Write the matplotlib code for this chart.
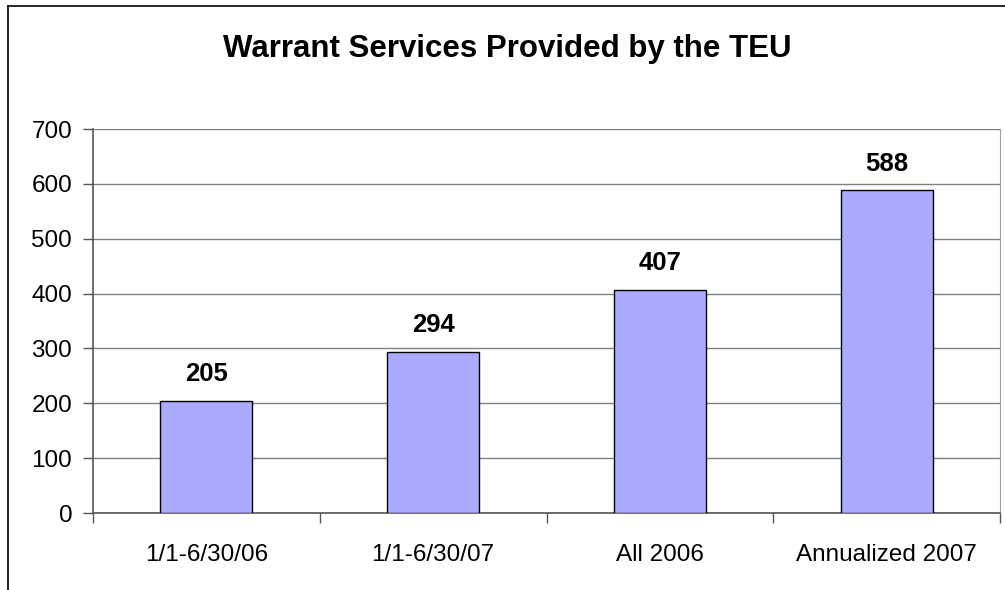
import matplotlib
matplotlib.use("Agg")
import matplotlib.pyplot as plt
from matplotlib.lines import Line2D
import numpy as np

plt.rcParams['font.family'] = ['Liberation Sans', 'DejaVu Sans']

categorias = ["1/1-6/30/06", "1/1-6/30/07", "All 2006", "Annualized 2007"]
valores = [205, 294, 407, 588]
titulo = "Warrant Services Provided by the TEU"

fig = plt.figure(figsize=(10.05, 5.9), dpi=100)
ax = fig.add_axes([93 / 1005, 1 - 513 / 590, 907 / 1005, 384 / 590])

x = np.arange(len(categorias))
ax.bar(x, valores, width=0.405, color="#AAAAFF", edgecolor="black", linewidth=1, zorder=3)
for xi, v in zip(x, valores):
    ax.text(xi, v + 27, str(v), ha="center", va="bottom", fontsize=18.5, fontweight="bold")

ax.set_xlim(-0.5, len(categorias) - 0.5)
ax.set_ylim(0, 700)
ax.set_yticks(range(0, 701, 100))
ax.grid(axis="y", color="#808080", linewidth=1, zorder=0)
ax.set_xticks(x)
ax.set_xticklabels(categorias, fontsize=17.5)
ax.set_xticks(np.arange(-0.5, len(categorias)), minor=True)
ax.tick_params(axis="x", which="major", length=0, pad=22)
ax.tick_params(axis="x", which="minor", length=7, width=1, color="#555555", direction="out")
ax.tick_params(axis="y", labelsize=17.5, length=7, width=1, color="#555555", pad=8)

for s in ["left", "bottom"]:
    ax.spines[s].set_color("#555555")
    ax.spines[s].set_linewidth(1.2)
ax.spines["right"].set_color("#A0A0A0")
ax.spines["top"].set_visible(False)

fig.text(0.505, 1 - 49 / 590, titulo, ha="center", va="center", fontsize=22.5, fontweight="bold")

# marco exterior
fig.add_artist(Line2D([8 / 1005, 8 / 1005], [0, 1 - 6 / 590], color="black", linewidth=1.2))
fig.add_artist(Line2D([8 / 1005, 1], [1 - 6 / 590, 1 - 6 / 590], color="black", linewidth=1.2))

fig.savefig("out.png", dpi=100)
